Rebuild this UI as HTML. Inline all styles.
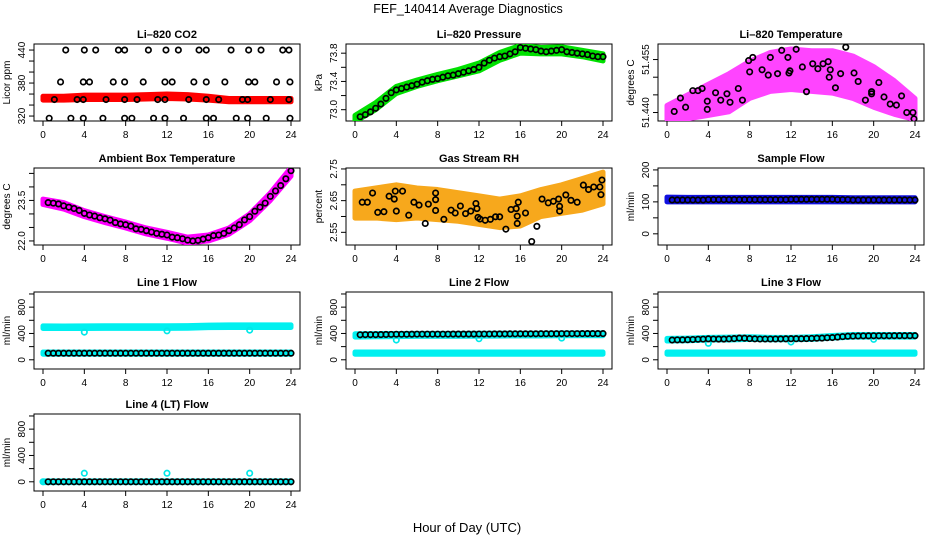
<!DOCTYPE html>
<html><head><meta charset="utf-8"><style>
html,body{margin:0;padding:0;background:#fff;}
svg{display:block;font-family:"Liberation Sans",sans-serif;}
</style></head><body>
<svg id="chart" width="936" height="540" viewBox="0 0 936 540">
<rect width="936" height="540" fill="#fff"/>
<text x="468" y="13" text-anchor="middle" font-size="12.5">FEF_140414  Average Diagnostics</text>
<text x="467" y="532" text-anchor="middle" font-size="13">Hour of Day (UTC)</text>
</svg>
<script>
// ---- shared x data ----
const hourGrid = [0.5,1,1.5,2,2.5,3,3.5,4,4.5,5,5.5,6,6.5,7,7.5,8,8.5,9,9.5,10,10.5,11,11.5,12,12.5,13,13.5,14,14.5,15,15.5,16,16.5,17,17.5,18,18.5,19,19.5,20,20.5,21,21.5,22,22.5,23,23.5,24];
const bandHours = [0,2,4,6,8,10,12,14,16,18,20,22,24];
const xTicks = [0,4,8,12,16,20,24];

// ---- Li-820 CO2 ----
const co2Hours = [2.2,4,5.1,7.3,7.9,10.2,11.9,13.1,15.1,15.8,18.2,19.9,21.1,23.2,23.8, 1.7,3.9,4.5,6.8,7.9,9.7,11.8,12.5,14.6,15.8,17.6,19.9,20.5,22.6,23.9, 1.1,3.3,3.9,6.1,7.9,9.1,11.1,11.8,14.1,15.8,17.0,19.3,19.8,22.0,23.8, 0.6,2.7,3.9,5.8,7.9,8.6,10.7,11.8,13.6,15.8,16.5,18.7,19.8,21.6,23.9];
const co2Vals = [440,440,440,440,440,440,440,440,440,440,440,440,440,440,440, 382,382,382,382,382,382,382,382,382,382,382,382,382,382,382, 350,350,350,350,350,350,350,350,350,350,350,350,350,350,350, 316,316,316,316,316,316,316,316,316,316,316,316,316,316,316];
const co2BandLo = [349,349,350,350,350,351,352,351,349,346,346,346,346];
const co2BandHi = [356,356,358,358,358,359,360,359,356,352,352,352,352];

// ---- Li-820 Pressure ----
const pressVals = [72.9,72.93,72.97,73.02,73.08,73.16,73.24,73.28,73.3,73.32,73.34,73.36,73.39,73.41,73.43,73.44,73.46,73.48,73.49,73.51,73.53,73.55,73.57,73.6,73.66,73.7,73.73,73.75,73.76,73.79,73.82,73.88,73.87,73.86,73.85,73.83,73.82,73.83,73.84,73.85,73.82,73.81,73.8,73.79,73.78,73.76,73.75,73.75];
const pressBandLo = [72.83,73.0,73.23,73.33,73.41,73.48,73.55,73.7,73.8,73.79,73.79,73.75,73.69];
const pressBandHi = [72.92,73.1,73.33,73.42,73.5,73.57,73.66,73.81,73.91,73.88,73.89,73.84,73.79];

// ---- Li-820 Temperature ----
const tempHours = [0.7,1.3,1.8,2.5,3,3.4,3.9,3.9,4.7,5.2,5.8,6.1,6.9,7.3,7.9,8,8.3,9.2,9.8,10,10.7,11.1,11.7,11.8,11.9,12.5,13.1,13.5,14.1,14.6,15.1,15.6,15.7,15.8,16.3,16.8,17.3,18.1,18.5,19.2,19.8,19.8,20.5,21,21.6,22.2,22.7,23.2,23.8,23.9];
const tempVals = [51.4403,51.4441,51.4415,51.4462,51.4462,51.4468,51.4432,51.4409,51.4456,51.4435,51.4453,51.4429,51.4468,51.4435,51.4547,51.4515,51.4556,51.4521,51.4506,51.4556,51.451,51.4576,51.4556,51.4512,51.4518,51.4579,51.4529,51.4459,51.4538,51.4524,51.4538,51.4544,51.45,51.4521,51.447,51.451,51.4585,51.4512,51.4488,51.4435,51.4459,51.4453,51.4485,51.4444,51.4424,51.4421,51.4447,51.440,51.440,51.4382];
const tempBandLo = [51.4380,51.4382,51.4392,51.4402,51.4440,51.4460,51.4465,51.4460,51.4455,51.4440,51.4415,51.4395,51.4380];
const tempBandHi = [51.4420,51.4450,51.4480,51.4510,51.4545,51.4570,51.4580,51.4575,51.4575,51.4560,51.4530,51.4490,51.4440];

// ---- Ambient Box Temperature ----
const ambVals = [23.42,23.4,23.37,23.3,23.25,23.2,23.13,23.02,22.96,22.92,22.86,22.82,22.77,22.68,22.63,22.6,22.55,22.45,22.43,22.38,22.33,22.28,22.25,22.22,22.14,22.12,22.08,22.03,22.0,22.02,22.07,22.12,22.2,22.22,22.28,22.38,22.48,22.6,22.78,22.9,23.1,23.25,23.4,23.65,23.85,24.05,24.3,24.6];
const ambBandLo = [23.35,23.18,22.9,22.68,22.48,22.26,22.1,21.92,22.0,22.25,22.75,23.5,24.4];
const ambBandHi = [23.55,23.42,23.12,22.9,22.7,22.48,22.32,22.14,22.22,22.48,23.0,23.78,24.72];

// ---- Gas Stream RH ----
const rhHours = [0.7,1.2,1.7,2.2,2.8,3.3,3.8,3.9,4,4.6,5.2,5.7,6.2,6.8,7.1,7.8,7.8,7.8,8.6,9.3,9.7,10.2,10.7,11.2,11.7,11.8,11.9,12.1,12.6,13.1,13.6,14,14.6,15.1,15.6,15.7,15.8,15.7,16.5,17.1,17.6,18.1,18.7,19.2,19.7,19.8,19.8,20.4,20.9,21.5,22.1,22.6,23.1,23.7,23.8,23.9];
const rhVals = [2.645,2.645,2.674,2.613,2.615,2.664,2.655,2.68,2.617,2.68,2.604,2.645,2.636,2.578,2.639,2.674,2.653,2.619,2.591,2.62,2.611,2.633,2.609,2.617,2.641,2.625,2.597,2.592,2.588,2.591,2.599,2.599,2.56,2.622,2.625,2.578,2.645,2.601,2.611,2.521,2.569,2.655,2.643,2.648,2.655,2.632,2.617,2.668,2.651,2.645,2.699,2.685,2.693,2.693,2.669,2.715];
const rhBandLo = [2.595,2.595,2.59,2.595,2.59,2.585,2.575,2.565,2.57,2.6,2.61,2.62,2.64];
const rhBandHi = [2.68,2.69,2.7,2.69,2.685,2.675,2.665,2.655,2.665,2.685,2.7,2.72,2.74];

// ---- Sample Flow ----
const sampleVals = [106,106,106,106,106,106,106,107,107,107,107,107,107,107,107,107,107,107,107,107,107,107,107,108,108,108,108,108,108,108,108,108,107,107,107,106,106,106,106,106,106,106,106,106,106,106,106,106];
const sampleBandLo = [100,100,100,100,100,100,100,100,100,100,100,100,100];
const sampleBandHi = [115,114,114,114,114,114,114,114,114,113,113,113,113];

// ---- Line 1 Flow ----
const line1Vals = [100,100,100,100,100,100,100,100,100,100,100,100,100,100,100,100,100,100,100,100,100,100,100,100,100,100,100,100,100,100,100,100,100,100,100,100,100,100,100,100,100,100,100,100,100,100,100,100];
const line1UpperLo = [475,475,475,478,478,478,478,480,488,490,490,490,490];
const line1UpperHi = [515,513,515,517,517,517,517,520,527,530,530,530,530];
const line1LowerLo = [85,85,85,85,85,85,85,85,85,85,85,85,85];
const line1LowerHi = [118,118,118,118,118,118,118,118,118,118,118,118,118];
const line1SpikeHours = [4,12,20];
const line1SpikeVals = [420,440,450];

// ---- Line 2 Flow ----
const line2Vals = [380,382,382,382,383,385,386,388,388,388,389,390,390,390,390,390,390,390,391,391,391,391,391,392,392,392,393,393,393,394,394,395,395,395,395,396,396,396,396,397,397,397,397,398,398,398,398,398];
const line2UpperLo = [345,350,352,355,355,355,358,360,362,362,365,365,365];
const line2UpperHi = [395,398,400,402,402,402,404,405,406,406,408,408,408];
const line2LowerLo = [85,85,85,85,85,85,85,85,85,85,85,85,85];
const line2LowerHi = [118,118,118,118,118,118,118,118,118,118,118,118,118];
const line2SpikeHours = [4,12,20];
const line2SpikeVals = [300,320,330];

// ---- Line 3 Flow ----
const line3Vals = [300,302,303,305,308,312,314,318,316,315,315,318,322,330,328,322,318,316,316,316,316,317,318,320,320,320,322,325,328,330,335,338,345,352,358,360,362,363,364,365,365,365,365,366,366,366,366,366];
const line3UpperLo = [285,290,300,300,310,305,305,310,330,345,345,345,345];
const line3UpperHi = [325,330,340,345,350,340,340,350,370,385,385,385,385];
const line3LowerLo = [85,85,85,85,85,85,85,85,85,85,85,85,85];
const line3LowerHi = [118,118,118,118,118,118,118,118,118,118,118,118,118];
const line3SpikeHours = [4,12,20];
const line3SpikeVals = [250,270,310];

// ---- Line 4 (LT) Flow ----
const line4Vals = [0,0,0,0,0,0,0,0,0,0,0,0,0,0,0,0,0,0,0,0,0,0,0,0,0,0,0,0,0,0,0,0,0,0,0,0,0,0,0,0,0,0,0,0,0,0,0,0];
const line4LowerLo = [-12,-12,-12,-12,-12,-12,-12,-12,-12,-12,-12,-12,-12];
const line4LowerHi = [14,14,14,14,14,14,14,14,14,14,14,14,14];
const line4SpikeHours = [0,4,12,20];
const line4SpikeVals = [0,130,130,130];

// ---- axis ticks ----
const co2Ticks = [320,340,360,380,400,420,440], co2Labels = [320,380,440];
const pressTicks = [73.0,73.2,73.4,73.6,73.8], pressLabels = ["73.0","73.4","73.8"];
const tempTicks = [51.440,51.445,51.450,51.455], tempLabels = ["51.440","51.455"];
const ambTicks = [22.0,22.5,23.0,23.5,24.0,24.5], ambLabels = ["22.0","23.5"];
const rhTicks = [2.55,2.60,2.65,2.70,2.75], rhLabels = ["2.55","2.65","2.75"];
const sampleTicks = [0,50,100,150,200], sampleLabels = ["0","100","200"];
const flowTicks = [0,200,400,600,800,1000], flowLabels = ["0","400","800"];

// ---- rendering ----
const svg = document.getElementById('chart');
const NS = 'http://www.w3.org/2000/svg';
const colLeft = [34,346,658], rowTop = [44,168,292,414];
const W = 266, H = 77, XMIN = -0.87, XMAX = 24.87;

function el(tag, attrs, parent){
  const e = document.createElementNS(NS, tag);
  for (const k in attrs) e.setAttribute(k, attrs[k]);
  (parent||svg).appendChild(e);
  return e;
}

function panel(col,row,title,ylab,ylim,ticks,labels,name){
  const L = colLeft[col], T = rowTop[row];
  const g = el('g',{});
  
  
  const xs = h => L + (h - XMIN)/(XMAX - XMIN)*W;
  const ys = v => T + H - (v - ylim[0])/(ylim[1]-ylim[0])*H;
  const t = el('text',{x:L+W/2,y:T-6,'text-anchor':'middle','font-size':'11','font-weight':'bold'},g);
  t.textContent = title;
  
  
  const box = el('rect',{x:L,y:T,width:W,height:H,fill:'none',stroke:'#000','stroke-width':'1'},g);
  
  
  const xa = el('g',{},g);
  
  
  xTicks.forEach(v=>{
    el('line',{x1:xs(v),x2:xs(v),y1:T+H,y2:T+H+5,stroke:'#000'},xa);
    const tx = el('text',{x:xs(v),y:T+H+17,'text-anchor':'middle','font-size':'10'},xa);
    tx.textContent = v;
  });
  const ya = el('g',{},g);
  
  
  ticks.forEach(v=>{
    const y = ys(v);
    if (y < T-1 || y > T+H+1) return;
    el('line',{x1:L-5,x2:L,y1:y,y2:y,stroke:'#000'},ya);
  });
  labels.forEach(v=>{
    const y = ys(+v);
    const tx = el('text',{x:L-9,y:y,'text-anchor':'middle','font-size':'10',transform:'rotate(-90 '+(L-9)+' '+y+')'},ya);
    tx.textContent = v;
  });
  const yl = el('text',{x:L-24,y:T+H/2,'text-anchor':'middle','font-size':'10',transform:'rotate(-90 '+(L-24)+' '+(T+H/2)+')'},g);
  yl.textContent = ylab;
  
  
  const clip = el('clipPath',{id:'clip-'+name},g);
  el('rect',{x:L,y:T,width:W,height:H},clip);
  const plot = el('g',{'clip-path':'url(#clip-'+name+')'},g);
  return {xs,ys,plot,name};
}

function band(p,hours,lo,hi,color,nm){
  let pts = hours.map((h,i)=>p.xs(h)+','+p.ys(hi[i]));
  pts = pts.concat(hours.map((h,i)=>p.xs(h)+','+p.ys(lo[i])).reverse());
  const poly = el('polygon',{points:pts.join(' '),fill:color,stroke:color,'stroke-width':'5','stroke-linejoin':'round'},p.plot);
  
  
}
function points(p,hours,vals,color,nm,r,sw){
  const g = el('g',{},p.plot);
  
  
  hours.forEach((h,i)=>{
    el('circle',{cx:p.xs(h),cy:p.ys(vals[i]),r:r||2.7,fill:'none',stroke:color,'stroke-width':sw||1.7},g);
  });
}

let p;
p = panel(0,0,'Li\u2013820 CO2','Licor ppm',[311,451],co2Ticks,co2Labels,'co2');
band(p,bandHours,co2BandLo,co2BandHi,'#ff0000','hourly-band');
points(p,co2Hours,co2Vals,'#000','average-points');

p = panel(1,0,'Li\u2013820 Pressure','kPa',[72.84,73.93],pressTicks,pressLabels,'pressure');
band(p,bandHours,pressBandLo,pressBandHi,'#00e000','hourly-band');
points(p,hourGrid,pressVals,'#000','average-points');

p = panel(2,0,'Li\u2013820 Temperature','degrees C',[51.4376,51.4594],tempTicks,tempLabels,'li820-temp');
band(p,bandHours,tempBandLo,tempBandHi,'#ff44ff','hourly-band');
points(p,tempHours,tempVals,'#000','average-points');

p = panel(0,1,'Ambient Box Temperature','degrees C',[21.85,24.7],ambTicks,ambLabels,'ambient-temp');
band(p,bandHours,ambBandLo,ambBandHi,'#ff00ff','hourly-band');
points(p,hourGrid,ambVals,'#000','average-points');

p = panel(1,1,'Gas Stream RH','percent',[2.51,2.753],rhTicks,rhLabels,'gas-rh');
band(p,bandHours,rhBandLo,rhBandHi,'#f7a81c','hourly-band');
points(p,rhHours,rhVals,'#000','average-points');

p = panel(2,1,'Sample Flow','ml/min',[-35,206],sampleTicks,sampleLabels,'sample-flow');
band(p,bandHours,sampleBandLo,sampleBandHi,'#1010e0','hourly-band');
points(p,hourGrid,sampleVals,'#000','average-points');

p = panel(0,2,'Line 1 Flow','ml/min',[-140,1030],flowTicks,flowLabels,'line1-flow');
band(p,bandHours,line1UpperLo,line1UpperHi,'#00f0f0','upper-band');
band(p,bandHours,line1LowerLo,line1LowerHi,'#00f0f0','lower-band');
points(p,line1SpikeHours,line1SpikeVals,'#00e8e8','spike-points');
points(p,hourGrid,line1Vals,'#000','average-points');

p = panel(1,2,'Line 2 Flow','ml/min',[-140,1030],flowTicks,flowLabels,'line2-flow');
band(p,bandHours,line2UpperLo,line2UpperHi,'#00f0f0','upper-band');
band(p,bandHours,line2LowerLo,line2LowerHi,'#00f0f0','lower-band');
points(p,line2SpikeHours,line2SpikeVals,'#00e8e8','spike-points');
points(p,hourGrid,line2Vals,'#000','average-points');

p = panel(2,2,'Line 3 Flow','ml/min',[-140,1030],flowTicks,flowLabels,'line3-flow');
band(p,bandHours,line3UpperLo,line3UpperHi,'#00f0f0','upper-band');
band(p,bandHours,line3LowerLo,line3LowerHi,'#00f0f0','lower-band');
points(p,line3SpikeHours,line3SpikeVals,'#00e8e8','spike-points');
points(p,hourGrid,line3Vals,'#000','average-points');

p = panel(0,3,'Line 4 (LT) Flow','ml/min',[-140,1030],flowTicks,flowLabels,'line4-flow');
band(p,bandHours,line4LowerLo,line4LowerHi,'#00f0f0','lower-band');
points(p,line4SpikeHours,line4SpikeVals,'#00e8e8','spike-points');
points(p,hourGrid,line4Vals,'#000','average-points');
</script>
</body></html>
